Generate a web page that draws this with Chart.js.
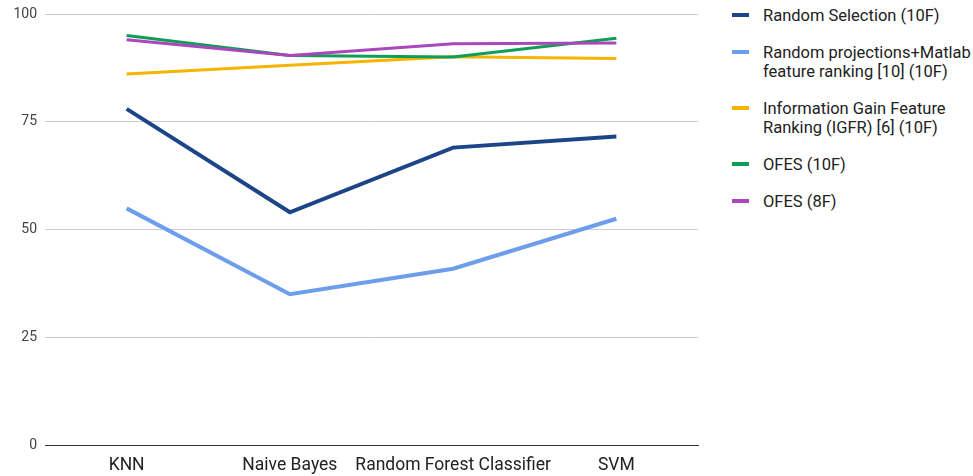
<!DOCTYPE html>
<html>
<head>
<meta charset="utf-8">
<script src="https://cdn.jsdelivr.net/npm/chart.js@4.4.0/dist/chart.umd.min.js"></script>
<style>
  html, body { margin: 0; padding: 0; background: #fff; }
  body { width: 973px; height: 476px; position: relative; overflow: hidden; font-family: Roboto, "Noto Sans", sans-serif; }
  #wrap { position: absolute; left: 0; top: 0; width: 701px; height: 476px; }
  #legend { position: absolute; left: 732px; top: 5.5px; width: 241px; color: #222; font-size: 16.5px; line-height: 19px; }
  .item { position: relative; padding-left: 31px; margin-bottom: 18px; white-space: pre-line; }
  .sw { position: absolute; left: 0; top: 7.5px; width: 17px; height: 4px; }
</style>
</head>
<body>
<div id="wrap"><canvas id="c"></canvas></div>
<div id="legend"></div>
<script>
const categories = ["KNN", "Naive Bayes", "Random Forest Classifier", "SVM"];
const seriesNames = [
  "Random Selection (10F)",
  "Random projections+Matlab\nfeature ranking [10] (10F)",
  "Information Gain Feature\nRanking (IGFR) [6] (10F)",
  "OFES (10F)",
  "OFES (8F)"
];
const randomSelection = [78, 54, 69, 71.6];
const randomProjections = [54.9, 35, 40.9, 52.5];
const infoGain = [86.1, 88.1, 90.1, 89.7];
const ofes10 = [95, 90.4, 90, 94.4];
const ofes8 = [94, 90.4, 93.1, 93.3];
const yTicks = [0, 25, 50, 75, 100];

const colors = ["#1c4587", "#6d9eeb", "#f4b400", "#0f9d58", "#ab47bc"];
const widths = [4, 4, 3, 3, 3];
const values = [randomSelection, randomProjections, infoGain, ofes10, ofes8];

const datasets = values.map((v, i) => ({
  label: seriesNames[i].replace("\n", " "),
  data: v,
  borderColor: colors[i],
  backgroundColor: colors[i],
  borderWidth: widths[i],
  pointRadius: 0,
  pointHoverRadius: 0,
  tension: 0,
  fill: false,
  order: values.length - i
}));

const lg = document.getElementById('legend');
seriesNames.forEach((n, i) => {
  const d = document.createElement('div');
  d.className = 'item';
  const s = document.createElement('span');
  s.className = 'sw';
  s.style.background = colors[i];
  d.appendChild(s);
  d.appendChild(document.createTextNode(n));
  lg.appendChild(d);
});

new Chart(document.getElementById('c'), {
  type: 'line',
  data: { labels: categories, datasets },
  options: {
    responsive: true,
    maintainAspectRatio: false,
    animation: false,
    layout: { padding: { top: 14, right: 3, left: 0, bottom: 0 } },
    plugins: { legend: { display: false }, tooltip: { enabled: false } },
    scales: {
      x: {
        offset: true,
        grid: { display: false, drawTicks: false },
        border: { display: true, color: '#333', width: 1 },
        ticks: { color: '#222', font: { family: 'Roboto', size: 17.5 }, padding: 10, maxRotation: 0, autoSkip: false },
        afterFit: s => { s.height = 31; }
      },
      y: {
        min: 0, max: 100,
        afterBuildTicks: s => { s.ticks = yTicks.map(v => ({ value: v })); },
        grid: { color: c => c.tick && c.tick.value === 0 ? '#333' : '#cccccc', drawTicks: false, lineWidth: 1 },
        border: { display: false },
        ticks: { color: '#444', font: { family: 'Roboto', size: 14 }, padding: 8 },
        afterFit: s => { s.width = 45; s.paddingTop = 0; s.paddingBottom = 0; }
      }
    }
  }
});
</script>
</body>
</html>
